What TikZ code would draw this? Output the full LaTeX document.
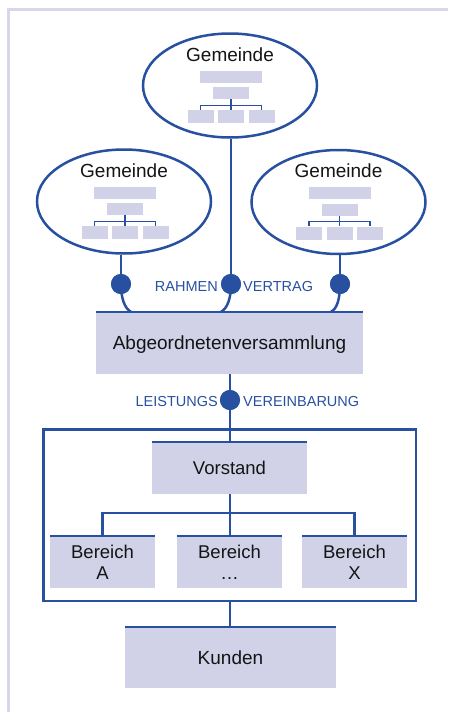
\documentclass[tikz,border=0pt]{standalone}
\usepackage{fontspec}
\setmainfont{Liberation Sans}
\usetikzlibrary{shapes.geometric,calc}
\definecolor{blu}{RGB}{40,80,160}
\definecolor{lav}{RGB}{209,210,231}
\definecolor{framec}{RGB}{214,215,235}
\definecolor{ink}{RGB}{20,20,20}
\newcommand{\bigtxt}{\fontsize{19}{23}\selectfont}
\newcommand{\midtxt}{\fontsize{18.5}{21}\selectfont}
\newcommand{\lbltxt}{\fontsize{14.5}{17}\selectfont}
\tikzset{
  ln/.style={draw=blu, line width=2.5pt},
  thin/.style={draw=blu, line width=1.3pt},
  unit/.style={fill=lav, inner sep=0pt, text=ink},
  capc/.style={text height=13.6pt, text depth=0pt},
  mini/.style={fill=lav, inner sep=0pt},
  dot/.style={circle, fill=blu, minimum size=20pt, inner sep=0pt},
  lbl/.style={text=blu, font=\lbltxt, inner sep=0pt},
  gemeinde/.pic={
    \node[ellipse, draw=blu, line width=2.5pt, minimum width=174pt,
          minimum height=104pt, inner sep=0pt] (-ell) at (0,0) {};
    \node[anchor=base, font=\bigtxt, text=ink, inner sep=0pt] (-name) at (0,-24.5) {Gemeinde};
    \node[mini, minimum width=62pt, minimum height=12pt] (-a) at (1,-9) {};
    \node[mini, minimum width=36pt, minimum height=12pt] (-b) at (1,7.5) {};
    \node[mini, minimum width=26pt, minimum height=13pt] (-l) at (-29.5,31) {};
    \node[mini, minimum width=26pt, minimum height=13pt] (-m) at (1,31) {};
    \node[mini, minimum width=26pt, minimum height=13pt] (-r) at (31.5,31) {};
    \draw[thin] (-b.south) -- (-m.north);
    \draw[thin] (-l.north) |- ($(-b.south)+(0,6)$) -| (-r.north);
  }
}
\begin{document}
\begin{tikzpicture}[x=1pt,y=-1pt]
\useasboundingbox (0,0) rectangle (448,712);

% outer page frame
\draw[framec, line width=3pt] (8.5,712) -- (8.5,9.5) -- (448,9.5);

% municipalities
\pic (g1) at (230,85.5) {gemeinde};
\pic (g2) at (124,201.5) {gemeinde};
\pic (g3) at (338.5,202) {gemeinde};

% assembly
\node[unit, capc, font=\bigtxt, minimum width=267pt, minimum height=62pt] (abg) at (229.5,343) {Abgeordnetenversammlung};

% contract dots
\node[dot] (d1) at (121,284) {};
\node[dot] (d2) at (231,284) {};
\node[dot] (d3) at (340,284) {};

\draw[ln] (d1 |- g2-ell.south) -- (d1.center);
\draw[ln] (d2 |- g1-ell.south) -- (d2.center);
\draw[ln] (d3 |- g3-ell.south) -- (d3.center);
\draw[ln] (d1.center) .. controls +(0,15) and +(-6,-3) .. ($(d1 |- abg.north)+(10,0)$);
\draw[ln] (d2.center) .. controls +(0,15) and +(6,-3) .. ($(d2 |- abg.north)+(-10,0)$);
\draw[ln] (d3.center) .. controls +(0,15) and +(6,-3) .. ($(d3 |- abg.north)+(-9,0)$);
\draw[ln] (abg.north west) -- (abg.north east);
\node[dot] at (d1) {};
\node[dot] at (d2) {};
\node[dot] at (d3) {};

\node[lbl, anchor=base east] (rahmen) at ($(d2)+(-13,7)$) {RAHMEN};
\node[lbl, anchor=base west] (vertrag) at ($(d2)+(12,7)$) {VERTRAG};

% organisation frame
\node[draw=blu, line width=2.5pt, minimum width=372.5pt, minimum height=171.5pt, inner sep=0pt] (org) at (229.5,515) {};

\node[dot] (d4) at (230,400) {};
\draw[ln] (abg.south -| d4) -- (org.north -| d4);
\node[dot] at (d4) {};
\node[lbl, anchor=base east] (leist) at ($(d4)+(-12,6)$) {LEISTUNGS};
\node[lbl, anchor=base west] (verein) at ($(d4)+(13,6)$) {VEREINBARUNG};

% board and divisions
\node[unit, capc, font=\midtxt, minimum width=155pt, minimum height=52pt] (vor) at (229.5,468) {Vorstand};
\node[unit, font=\midtxt, align=center, minimum width=105pt, minimum height=52pt] (ba) at (102.5,562) {Bereich\\A};
\node[unit, font=\midtxt, align=center, minimum width=105pt, minimum height=52pt] (bm) at (229.5,562) {Bereich\\\ldots};
\node[unit, font=\midtxt, align=center, minimum width=105pt, minimum height=52pt] (bx) at (354.5,562) {Bereich\\X};

\draw[ln] (org.north -| d4) -- (vor.north -| d4);
\draw[ln] (vor.south -| d4) -- (bm.north -| d4);
\draw[ln] (ba.north) |- ($(vor.south)+(0,19)$) -| (bx.north);
\draw[ln] (vor.north west) -- (vor.north east);
\draw[ln] (ba.north west) -- (ba.north east);
\draw[ln] (bm.north west) -- (bm.north east);
\draw[ln] (bx.north west) -- (bx.north east);

% customers
\node[unit, capc, font=\bigtxt, minimum width=211pt, minimum height=61pt] (kun) at (230.5,657.5) {Kunden};
\draw[ln] (org.south -| d4) -- (kun.north -| d4);
\draw[ln] (kun.north west) -- (kun.north east);
\end{tikzpicture}
\end{document}
